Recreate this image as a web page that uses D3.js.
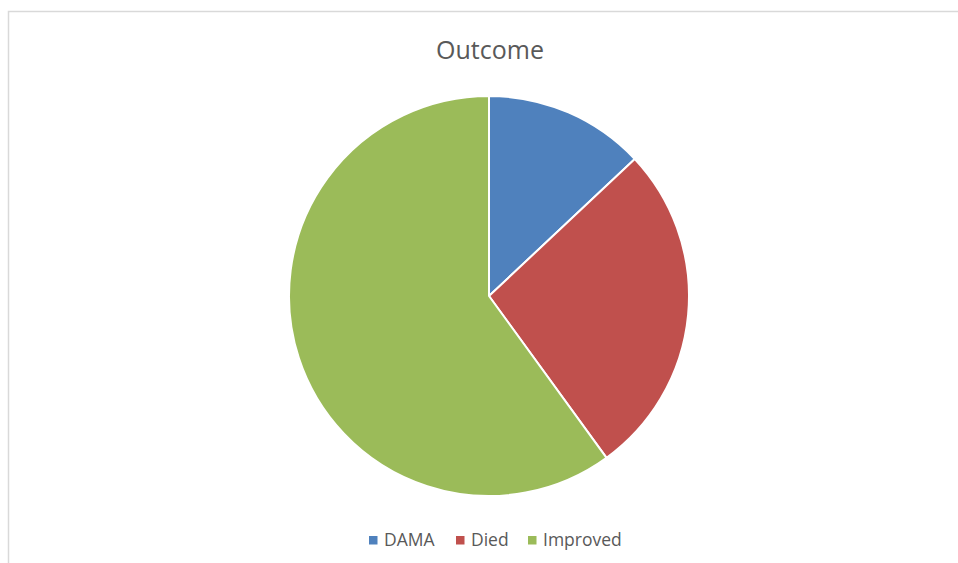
<!DOCTYPE html>
<html>
<head>
<meta charset="utf-8">
<script src="https://cdn.jsdelivr.net/npm/d3@7"></script>
<style>
  html, body { margin: 0; padding: 0; background: #fff; }
  svg { display: block; }
</style>
</head>
<body>
<svg id="chart" width="958" height="563"></svg>
<script>
// Outcome categories and their counts
const categories = ["DAMA", "Died", "Improved"];
const values = [13, 27, 60];
const colors = ["#4f81bd", "#c0504d", "#9bbb59"];
const title = "Outcome";

const svg = d3.select("#chart");
const W = 958, H = 563;
const font = "'Open Sans', 'Noto Sans', sans-serif";

// chart area frame
svg.append("path")
  .attr("d", `M8.5,${H + 2}V11.5H${W + 2}`)
  .attr("fill", "none")
  .attr("stroke", "#d9d9d9")
  .attr("stroke-width", 1.5);

// title
svg.append("text")
  .attr("x", 490)
  .attr("y", 59)
  .attr("text-anchor", "middle")
  .attr("font-family", font)
  .attr("font-size", 25)
  .attr("fill", "#595959")
  .text(title);

// pie
const cx = 489, cy = 296, r = 200;
const data = categories.map((c, i) => ({ name: c, value: values[i] }));
const pie = d3.pie().value(d => d.value).sort(null);
const arc = d3.arc().innerRadius(0).outerRadius(r);
const color = d3.scaleOrdinal().domain(categories).range(colors);

svg.append("g")
  .attr("transform", `translate(${cx},${cy})`)
  .selectAll("path")
  .data(pie(data))
  .join("path")
  .attr("d", arc)
  .attr("fill", d => color(d.data.name))
  .attr("stroke", "#fff")
  .attr("stroke-width", 2)
  .attr("stroke-linejoin", "round");

// legend
const legend = svg.append("g").attr("font-family", font).attr("font-size", 17.5).attr("fill", "#595959");
const itemX = [369, 456, 528];
categories.forEach((c, i) => {
  const g = legend.append("g").attr("transform", `translate(${itemX[i]},540)`);
  g.append("rect").attr("x", 0).attr("y", -4).attr("width", 8.5).attr("height", 8.5).attr("fill", color(c));
  g.append("text").attr("x", 15).attr("y", 0).attr("dy", "0.36em").text(c);
});
</script>
</body>
</html>
